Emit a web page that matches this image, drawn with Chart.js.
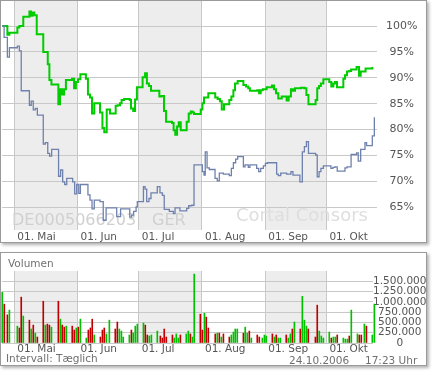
<!DOCTYPE html>
<html>
<head>
<meta charset="UTF-8">
<title>Kursvergleich DE0005066203</title>
<script src="https://cdn.jsdelivr.net/npm/chart.js"></script>
<style>
  body { margin: 0; background: #fff; font-family: "DejaVu Sans", Verdana, sans-serif; }
  .box { position: absolute; left: 0; width: 425px; border: 1px solid #9a9a9a; background: #fff;
         box-shadow: 2px 2px 3px rgba(0,0,0,0.3); }
  #kursBox { top: 0; height: 241px; }
  #volBox { top: 252px; height: 112px; }
  .box canvas { position: absolute; left: 0; top: 0; }
  .txt { position: absolute; font-size: 10.5px; line-height: 1; color: #707070; white-space: nowrap; }
</style>
</head>
<body>
<div class="box" id="kursBox"><canvas id="kurse" width="425" height="241"></canvas></div>
<div class="box" id="volBox"><canvas id="umsatz" width="425" height="112"></canvas></div>
<div class="txt" style="left:8px; top:258px;">Volumen</div>
<div class="txt" style="left:6px; top:353px;">Intervall: Tæglich</div>
<div class="txt" style="left:289px; top:355px;">24.10.2006</div>
<div class="txt" style="left:365px; top:355px;">17:23 Uhr</div>

<script>
  // Tage ab 01.05.2006
  const tagAnfang = -6.03;
  const tagEnde = 177.8;
  const volTagEnde = 175.83;
  const monatsTage = [0, 31, 61, 92, 123, 153];
  const monatsNamen = ['01. Mai', '01. Jun', '01. Jul', '01. Aug', '01. Sep', '01. Okt'];
  const grauVon = [0, 61, 123];
  const grauBis = [31, 92, 153];

  const prozentTicks = [65, 70, 75, 80, 85, 90, 95, 100];
  const volTicks = [0, 250000, 500000, 750000, 1000000, 1250000, 1500000];

  // Aktie (gruen), Stufen: Tag -> Wert in %
  const gruenTag = [-6, -3.4, -2.4, 1.5, 2.5, 4.4, 7.4, 8.2, 8.8, 9.8,
    11.0, 14.2, 16.4, 17.2, 18.2, 21.6, 22.4, 23.4, 24.4, 25.3,
    28.3, 29.3, 30.2, 31.2, 32.4, 35.1, 36.1, 37.1, 38.1, 39.2,
    42.0, 43.2, 44.1, 45.3, 46.9, 49.7, 50.7, 51.8, 52.6, 53.8,
    56.6, 57.2, 58.3, 59.2, 60.1, 62.9, 64.1, 65.0, 66.0, 67.0,
    71.1, 72.2, 73.4, 74.4, 77.3, 78.1, 78.9, 79.8, 80.6, 81.6,
    84.5, 85.5, 86.5, 87.4, 88.1, 91.4, 92.2, 93.0, 95.1, 98.5,
    99.7, 100.8, 101.7, 102.8, 105.4, 106.4, 107.4, 108.2, 109.5, 112.3,
    113.6, 114.7, 115.5, 119.1, 120.0, 120.8, 121.8, 123.7, 126.3, 127.3,
    128.3, 129.4, 131.1, 133.5, 134.5, 135.6, 136.6, 137.6, 140.5, 142.2,
    143.2, 144.2, 147.7, 148.5, 149.4, 150.3, 151.5, 154.4, 155.4, 156.4,
    157.2, 158.2, 161.3, 162.1, 163.1, 164.1, 165.1, 167.8, 169.0, 169.8,
    172.2, 175.5];
  const gruenWert = [100, 98.3, 98.7, 99.7, 100, 101.8, 102.8, 102.0, 102.6, 102.1,
    98.4, 95.0, 92.6, 89.6, 88.7, 84.9, 87.8, 86.8, 87.8, 89.6,
    89.8, 88.0, 89.2, 89.7, 90.7, 89.8, 86.8, 86.2, 83.1, 85.1,
    83.3, 80.3, 79.5, 83.9, 83.1, 84.6, 84.7, 85.1, 85.7, 85.9,
    85.7, 84.1, 83.6, 85.8, 88.2, 90.1, 90.9, 88.9, 88.4, 87.5,
    86.4, 86.5, 83.6, 81.5, 81.3, 79.9, 79.0, 80.6, 81.4, 79.9,
    81.5, 83.1, 83.5, 83.3, 83.0, 83.9, 85.1, 86.2, 87.0, 86.2,
    85.9, 85.5, 83.9, 84.9, 85.7, 86.4, 87.6, 88.9, 89.4, 88.6,
    88.3, 88.0, 87.5, 87.6, 87.0, 87.6, 87.8, 88.2, 88.5, 87.8,
    87.0, 86.0, 86.4, 85.6, 86.4, 87.8, 87.5, 88.0, 88.1, 88.0,
    86.7, 84.9, 85.7, 88.0, 88.4, 88.9, 89.7, 89.2, 88.3, 88.9,
    89.2, 88.2, 89.8, 90.5, 91.2, 91.3, 91.6, 92.1, 90.4, 91.2,
    91.8, 92.1];

  // Vergleichswert (blau)
  const blauTag = [-6, -5.0, -3.4, -2.4, 1.5, 2.5, 3.4, 7.4, 8.3, 9.3,
    10.3, 11.3, 14.2, 15.2, 16.4, 17.3, 18.3, 21.7, 22.7, 23.7,
    24.7, 25.7, 28.6, 29.6, 30.6, 31.6, 32.4, 36.1, 37.1, 38.1,
    39.2, 42.0, 43.6, 45.0, 50.2, 52.1, 56.6, 57.5, 58.5, 59.7,
    60.3, 63.3, 64.1, 64.9, 66.0, 67.0, 70.1, 71.4, 72.6, 73.5,
    76.0, 78.0, 78.8, 81.2, 84.5, 85.5, 87.0, 88.1, 92.2, 93.0,
    93.6, 94.5, 95.6, 98.4, 99.5, 100.5, 102.5, 105.4, 106.4, 107.4,
    108.5, 109.5, 112.3, 113.1, 114.7, 115.5, 118.8, 119.8, 120.8, 122.1,
    123.1, 124.0, 128.6, 129.4, 130.6, 133.5, 135.6, 136.6, 140.0, 141.2,
    142.2, 143.2, 144.2, 147.7, 148.5, 149.4, 150.3, 151.5, 155.2, 156.2,
    157.2, 158.3, 162.1, 163.1, 165.1, 167.8, 168.6, 169.8, 171.9, 172.7,
    175.5, 176.5];
  const blauWert = [100, 97.8, 94.0, 95.8, 96.1, 95.2, 87.5, 84.7, 85.5, 83.8,
    84.1, 82.8, 77.2, 77.5, 75.4, 74.9, 76.2, 71.0, 72.2, 69.9,
    69.4, 70.6, 69.9, 67.6, 69.4, 67.7, 69.4, 67.4, 66.4, 64.7,
    66.4, 66.1, 62.5, 64.9, 63.2, 64.7, 63.1, 63.5, 64.2, 65.1,
    66.1, 69.0, 68.5, 66.1, 66.7, 67.8, 69.0, 67.8, 67.3, 64.6,
    64.2, 63.8, 64.9, 64.3, 64.8, 65.3, 65.4, 73.2, 71.9, 71.2,
    75.7, 72.6, 72.3, 70.6, 70.1, 71.6, 71.4, 71.1, 72.5, 73.6,
    74.3, 74.8, 72.8, 73.2, 72.7, 73.2, 72.5, 71.9, 72.5, 73.0,
    73.5, 73.6, 71.4, 71.1, 71.6, 71.4, 71.9, 71.2, 69.9, 75.7,
    76.7, 77.7, 75.4, 75.1, 70.9, 71.9, 72.5, 73.0, 72.5, 72.7,
    72.8, 72.0, 72.6, 72.8, 75.2, 75.5, 73.9, 76.2, 77.5, 76.9,
    78.8, 82.4];

  // Umsatz je Handelstag, + = Kurs gestiegen, - = gefallen
  const volTag = [-5.9, -4.9, -3.4, -2.4, 1.5, 2.5, 3.4, 4.4, 7.4, 8.3,
    9.3, 10.3, 11.3, 14.2, 15.2, 16.2, 17.2, 18.2, 21.6, 22.6,
    23.5, 24.5, 25.5, 28.4, 29.4, 30.4, 31.4, 32.4, 35.3, 36.3,
    37.3, 38.2, 39.2, 42.2, 43.2, 44.1, 45.1, 46.6, 49.5, 50.5,
    51.5, 52.5, 53.4, 56.4, 57.4, 58.3, 59.3, 60.3, 63.3, 64.2,
    65.2, 66.2, 67.2, 70.1, 71.6, 72.6, 73.5, 74.5, 77.5, 78.4,
    79.4, 80.4, 81.4, 84.3, 85.3, 86.3, 87.3, 88.2, 91.2, 92.2,
    93.2, 94.1, 95.1, 98.5, 99.5, 100.5, 101.5, 102.5, 105.4, 106.4,
    107.4, 108.3, 109.3, 112.3, 113.2, 114.2, 115.2, 116.2, 119.1, 120.1,
    121.6, 122.6, 123.5, 126.5, 127.5, 128.4, 129.4, 130.4, 133.3, 134.3,
    135.3, 136.3, 137.3, 140.2, 141.2, 142.2, 143.2, 144.1, 147.6, 148.5,
    149.5, 150.5, 151.5, 154.4, 155.4, 156.4, 157.4, 158.3, 161.3, 162.3,
    163.3, 164.2, 165.2, 168.2, 169.1, 170.1, 171.6, 172.6, 175.5, 176.5];
  const volMenge = [1235000, 945000, 685000, 800000, 410000, 365000, 1115000, 655000, 555000, 340000,
    435000, 240000, 145000, 1015000, 435000, 460000, 435000, 385000, 1015000, 580000,
    435000, 385000, 410000, 410000, 315000, 365000, 385000, 580000, 120000, 315000,
    365000, 580000, 195000, 145000, 315000, 365000, 220000, 555000, 340000, 510000,
    340000, 290000, 145000, 195000, 315000, 240000, 410000, 460000, 485000, 435000,
    195000, 170000, 195000, 290000, 170000, 120000, 340000, 145000, 195000, 120000,
    220000, 120000, 195000, 220000, 290000, 220000, 145000, 1675000, 700000, 315000,
    725000, 630000, 365000, 220000, 240000, 240000, 145000, 220000, 145000, 195000,
    265000, 340000, 340000, 240000, 385000, 240000, 290000, 120000, 195000, 145000,
    120000, 195000, 170000, 220000, 145000, 195000, 120000, 120000, 195000, 120000,
    220000, 340000, 510000, 340000, 1135000, 555000, 410000, 340000, 145000, 920000,
    290000, 170000, 120000, 265000, 120000, 145000, 145000, 195000, 120000, 95000,
    95000, 170000, 800000, 220000, 195000, 195000, 460000, 410000, 195000, 945000];
  const volTrend = ('+--++--+-+' + '-+--+--+-+' + '--+--+-++-' + '--+---++--' + '++++-++++-' +
                    '-+++-----+' + '++-++-++--' + '+---+-+--+' + '+++-++-+--' + '+++-+-++-+' +
                    '+-+-+++---' + '++++-++-++' + '+-++--+-++').split('');

  const schrift = '"DejaVu Sans", Verdana, sans-serif';

  const hintergrund = {
    id: 'hintergrund',
    beforeDraw(chart) {
      const {ctx, chartArea: a, scales: {x}} = chart;
      ctx.save();
      ctx.fillStyle = '#ededed';
      grauVon.forEach((von, i) => {
        const l = x.getPixelForValue(von);
        const r = x.getPixelForValue(grauBis[i]);
        ctx.fillRect(l, a.top, r - l, a.bottom - a.top);
      });
      ctx.restore();
    }
  };

  const wasserzeichen = {
    id: 'wasserzeichen',
    beforeDatasetsDraw(chart) {
      const ctx = chart.ctx;
      ctx.save();
      ctx.textBaseline = 'alphabetic';
      ctx.fillStyle = '#d0d0d0';
      ctx.font = '16px ' + schrift;
      ctx.fillText('DE0005066203', 11, 224);
      ctx.fillText('GER', 151, 224);
      ctx.fillStyle = '#dedede';
      ctx.font = '18px ' + schrift;
      ctx.fillText('Cortal Consors', 235, 220);
      ctx.restore();
    }
  };

  function xAchse(polster, hoehe, ende) {
    return {
      type: 'linear',
      min: tagAnfang,
      max: ende,
      offset: false,
      border: { display: false },
      grid: { color: '#c8c8c8', drawTicks: false, offset: false },
      ticks: {
        align: 'start', labelOffset: 3, padding: polster, autoSkip: false, maxRotation: 0,
        color: '#555', font: { family: schrift, size: 10.5 },
        callback: (v, i) => monatsNamen[i]
      },
      afterBuildTicks: s => { s.ticks = monatsTage.map(v => ({ value: v })); },
      afterFit: s => { s.paddingLeft = 0; s.paddingRight = 0; s.height = hoehe; }
    };
  }

  function yAchse(min, max, ticks, breite, polster, groesse, format) {
    return {
      position: 'right',
      min: min,
      max: max,
      border: { display: false },
      grid: { color: '#c8c8c8', drawTicks: false },
      ticks: {
        crossAlign: 'center', padding: polster, color: '#555', autoSkip: false,
        font: { family: schrift, size: groesse },
        callback: format
      },
      afterBuildTicks: s => { s.ticks = ticks.map(v => ({ value: v })); },
      afterFit: s => { s.width = breite; s.paddingTop = 0; s.paddingBottom = 0; }
    };
  }

  const tausender = v => String(v).replace(/\B(?=(\d{3})+(?!\d))/g, '.');

  new Chart(document.getElementById('kurse'), {
    type: 'line',
    data: {
      datasets: [
        {
          data: blauTag.map((t, i) => ({ x: t, y: blauWert[i] })),
          borderColor: '#6f81ad', borderWidth: 1.3, stepped: true, pointRadius: 0, fill: false
        },
        {
          data: gruenTag.map((t, i) => ({ x: t, y: gruenWert[i] })),
          borderColor: '#00cc00', borderWidth: 2, stepped: true, pointRadius: 0, fill: false
        }
      ]
    },
    options: {
      responsive: false,
      animation: false,
      layout: { padding: { left: 1, top: 0, right: 0, bottom: 0 } },
      plugins: { legend: { display: false }, tooltip: { enabled: false } },
      scales: {
        x: xAchse(1, 12, tagEnde),
        y: yAchse(60.62, 104.83, prozentTicks, 49, 9, 11, v => v + '%')
      }
    },
    plugins: [hintergrund, wasserzeichen]
  });

  const steigend = volTag.map((t, i) => ({ x: t, y: volMenge[i] })).filter((p, i) => volTrend[i] === '+');
  const fallend = volTag.map((t, i) => ({ x: t, y: volMenge[i] })).filter((p, i) => volTrend[i] === '-');

  new Chart(document.getElementById('umsatz'), {
    type: 'bar',
    data: {
      datasets: [
        { data: steigend, backgroundColor: '#00c000', barThickness: 1, grouped: false, clip: false },
        { data: fallend, backgroundColor: '#c00000', barThickness: 1, grouped: false, clip: false }
      ]
    },
    options: {
      responsive: false,
      animation: false,
      layout: { padding: { left: 1, top: 18, right: 0, bottom: 0 } },
      plugins: { legend: { display: false }, tooltip: { enabled: false } },
      scales: {
        x: xAchse(0, 22, volTagEnde),
        y: yAchse(0, 1750000, volTicks, 53, 0, 10.5, v => tausender(v))
      }
    },
    plugins: [hintergrund]
  });
</script>
</body>
</html>
